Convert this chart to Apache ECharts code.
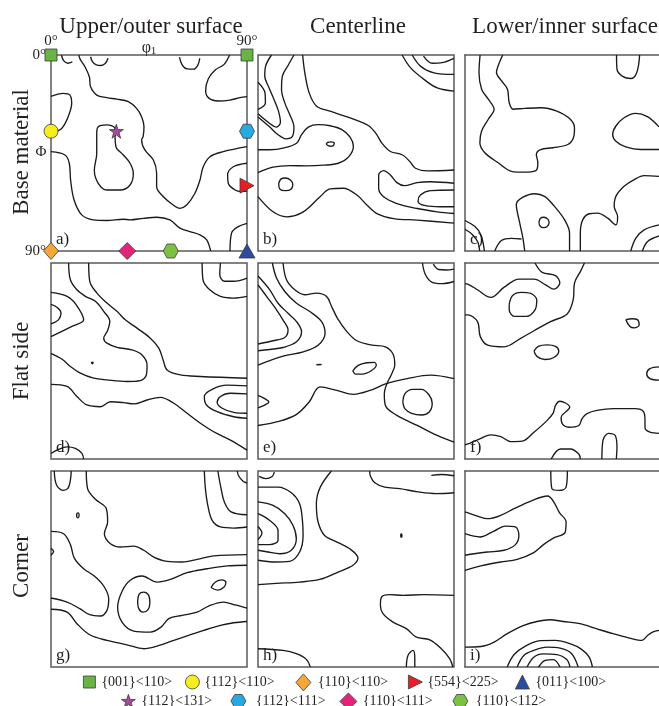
<!DOCTYPE html>
<html>
<head>
<meta charset="utf-8">
<script src="https://cdn.jsdelivr.net/npm/echarts@6/dist/echarts.min.js"></script>
<style>
  html, body { margin: 0; padding: 0; background: #ffffff; }
  #chart { width: 659px; height: 706px; }
</style>
</head>
<body>
<div id="chart"></div>
<script>
// ---- Text ----
const columnTitles = ['Upper/outer surface', 'Centerline', 'Lower/inner surface'];
const rowTitles = ['Base material', 'Flat side', 'Corner'];
const panelLetters = ['a)', 'b)', 'c)', 'd)', 'e)', 'f)', 'g)', 'h)', 'i)'];
const angleRange = [0, 90];          // φ1 and Φ both run 0°–90°

// ---- Ideal texture components (φ1, Φ) in degrees ----
const textureNames = ['{001}<110>', '{112}<110>', '{110}<110>', '{554}<225>', '{011}<100>',
                      '{112}<131>', '{112}<111>', '{110}<111>', '{110}<112>'];
const texturePositions = [
  [[0, 0], [90, 0]],
  [[0, 35]],
  [[0, 90]],
  [[90, 60]],
  [[90, 90]],
  [[30, 35]],
  [[90, 35]],
  [[35, 90]],
  [[55, 90]]
];

// ---- Iso-intensity lines of the φ2 = 45° sections, [φ1, Φ] in degrees ----
const contoursA = [
  [[4.8,0],[5.8,2.6],[7.8,3.8],[9.8,3.2]],
  [[18.2,0.8],[19,3],[20.8,4.5],[23,4.8],[25,3.8],[26.2,1.5]],
  [[59,1],[60.2,4.5],[62.5,6.4],[65.5,6.5],[67.5,4.5],[68.3,1.5]],
  [[82,0],[79.5,4.3],[75.5,6.8],[72.2,11],[71,16.5],[72.5,19.8],[76.8,21.1],[82.2,20.7],[86.7,19.6],[90,19.1]],
  [[12.8,0],[13.3,1.8],[15.6,5.4],[17.6,10],[18.2,14.6],[21,18.4],[25.6,19.6],[30.2,20.3],[35.5,21.4],[39.3,24.5],[41.6,28.3],[42.7,32.9],[42.3,37.5],[41.6,39],[43.1,43.6],[47,48.2],[48.5,54.3],[48.5,60.5],[51.5,65],[56.1,68.9],[59.2,70.4],[62.3,68.9],[66.1,63.5],[68.4,57.4],[69.9,51.3],[73,46.7],[79.1,44.4],[90,42.1]],
  [[0,19],[5.6,17.6],[8.7,18.4],[9.5,22.2],[7.9,28.3],[4.9,33.7],[0,35.8]],
  [[29.4,35.9],[29.8,42.1],[33.2,45.9],[36.3,49.7],[37.8,54.3],[36.3,59.7],[31.7,62],[25.6,62],[21.7,58.9],[19.9,52.9],[21,45.2],[21,36],[21.7,32.9],[25.6,32.1],[29.4,33.7],[29.4,35.9]],
  [[0,44.4],[6.4,45.9],[8.4,49.7],[9,57.4],[10.6,66.6],[14.1,73.4],[19.4,75.7],[25.6,76],[33.2,75.4],[36.3,75.7],[42.4,75],[48.5,74.5],[54.6,75.7],[59.2,79.5],[63.8,81.1],[68.4,82.6],[71.5,84.9],[73,88.7],[73.3,90]],
  [[90,49.7],[83.7,51.3],[81.1,55.1],[81.4,58.9],[84.5,62],[87.5,62.7],[90,62.5]],
  [[82.2,90],[82.9,81.8],[86,78.8],[90,77.3]]
];
const contoursB = [
  [[20.5,0],[21.5,8.2],[23.5,17.4],[26.9,23.5],[33.1,25.8],[39.2,27.8],[45.4,30],[50.8,32.5],[54.3,36.2],[56.9,40.5],[60.8,44.3],[66.2,45.8],[69.7,48.9],[72.3,52],[77.7,53.2],[90,52.8]],
  [[16.5,0],[13.8,4.8],[11.2,9.7],[10.8,15.8],[12.3,22],[14.6,27.4],[16.5,33.1],[15.8,37.4],[12.8,38.5],[9.2,36.6],[5.4,33.1],[0,28.5]],
  [[6.2,0],[3.5,5.1],[3.1,9.7],[5.1,15.1],[7.4,20.5],[9.4,25.8],[10.3,30.9],[8.5,33.1],[5.1,31.2],[0,27]],
  [[0,12.5],[3.2,17.4],[3.4,22],[0,25]],
  [[0,54],[6.9,51.5],[14.6,50.8],[22.3,50.9],[30,50.6],[36.9,49.7],[41.5,46.9],[43.8,42],[42.3,37.7],[38.5,34.3],[33.1,32.5],[27.7,32],[23.1,33.1],[20,36.6],[17.7,40.5],[11.5,42.8],[5.4,43.5],[0,43.5]],
  [[31.3,41],[32,40.1],[33.5,39.9],[35,40.5],[34.6,41.6],[33,41.9],[31.3,41]],
  [[9.5,59],[10.5,57],[12.5,56.5],[15,57.5],[16,59.5],[15,61.8],[12.5,62.3],[10,61.5],[9.5,59]],
  [[0,65],[6.9,72],[13.1,74.3],[20.8,72],[28.5,65.1],[33.1,61.5],[39.2,61.2],[45.4,64.3],[50,68.9],[54.6,72.8],[62.3,75.1],[73.1,75.8],[90,77.2]],
  [[90,58.9],[79.2,58.2],[73.1,58.6],[67.2,60],[63.8,58.6],[60.8,55.1],[57.7,53.1],[55.4,55.1],[55.4,61.2],[57.7,65.1],[63.8,68.2],[73.1,70.5],[82.3,72],[90,72.8]],
  [[90,62],[79.2,62.3],[74.6,64.3],[73.5,67.1],[76.9,69.2],[83.8,69.7],[90,69.7]],
  [[66.2,0],[70,5.8],[76.2,11.2],[82.3,15.1],[90,16.6]],
  [[70.8,0],[74.6,5.1],[80.8,8.2],[90,8.9]],
  [[76,0.5],[80,3.8],[84.6,3.5],[90,1.5]]
];
const contoursC = [
  [[7,0],[6.5,8],[7.7,15.7],[10.8,20.3],[13.5,24.9],[10.8,29.5],[7.7,34.9],[6.9,40.3],[9.2,44.9],[15.4,49.5],[21.5,53.4],[27.7,53.8],[33.1,52.9],[33.8,49.5],[33.1,45.7],[35.1,43.4],[40.8,42.6],[47.7,41.1],[50.3,38],[50.8,33.4],[48.5,29.2],[42.3,25.7],[35.4,24.2],[27.7,24.5],[22.3,24.9],[20.5,21.8],[19.7,15.7],[16.9,11.8],[14.6,8],[15.4,4.9],[17.5,0]],
  [[70.3,0],[70.5,6.5],[73.1,9.8],[76.9,10.8],[79.7,8],[81,0]],
  [[90,33],[84.6,28.3],[79.2,26.8],[73.8,28.8],[70,32.6],[68.5,36.5],[70,39.6],[74.6,42.2],[81.5,43.4],[90,43.4]],
  [[90,55.7],[83.1,55.4],[78.5,57.2],[73.8,60.3],[70,64.9],[69.2,69.5],[70.8,74.2],[70,78],[66.2,74.9],[61.5,72.6],[57.7,72.9],[54.6,75.7],[53.5,81.8],[53.5,90]],
  [[27.7,90],[26.9,84.3],[25.4,77.2],[23.8,68.8],[32.3,63.7],[36.9,64.9],[41.5,69.5],[46.2,75.7],[48.5,81.8],[48.5,90]],
  [[13.8,90],[16.9,85.2],[21.5,84.2],[26.2,84.5]],
  [[34.3,76.9],[35,75],[36.6,74.5],[38.5,75.5],[39,77.2],[38,78.9],[36.4,79.3],[34.8,78.5],[34.3,76.9]],
  [[0,76],[4.6,78.8],[7.4,82.6],[9,90]],
  [[0,80],[3.5,82.5],[6,86],[6.8,90]],
  [[76.9,90],[79.2,84.2],[83.1,80.3],[90,78]],
  [[82.3,90],[84.6,85.7],[90,83.1]]
];
const contoursD = [
  [[8.1,0],[8.9,7.7],[11.9,12.3],[15.8,15.3],[20.4,17.6],[24.2,22.2],[27,26.8],[26,31],[24.2,34.5],[25.7,36.8],[30.3,38.7],[37.2,39.9],[41.8,42.2],[44.1,46.8],[43.8,51.4],[41,54],[34.9,54.4],[25.7,53.7],[19.6,52.9],[13.5,50.6],[8.9,47.5],[5.1,44.2],[0,41.5]],
  [[17.3,0],[17.8,8.4],[21.1,13.8],[25.7,18.4],[30.3,22.2],[34.1,26.1],[39.5,29.9],[45.6,34.5],[49.5,39.1],[51.5,44.5],[53.3,49.1],[59.4,51.4],[68.6,52.1],[90,52.9]],
  [[0,13.5],[7.4,15.3],[11.6,19.2],[15,26.1],[9.6,29.1],[0,33.8]],
  [[0,19],[3,20.5],[4.6,23],[3.5,26],[0,28]],
  [[0,55.7],[7.4,56.7],[11.9,61.3],[16.5,65.2],[22.7,66],[27.3,63.7],[33.4,64.1],[38,64.7],[44.1,62.9],[50.2,61.7],[56.4,64.4],[62.5,69],[68.6,73.6],[74.7,77.5],[82.4,81.3],[90,85.9]],
  [[90,56.4],[80.9,56.1],[74,58],[70.4,61.3],[71.4,65.2],[76.3,68.3],[83.9,70.6],[90,71.3]],
  [[90,60.1],[82.4,59.8],[77.8,61.3],[76.3,64.1],[78.6,66.7],[83.9,68.6],[90,69]],
  [[69.4,0],[69.8,7.7],[72.9,12.3],[77.8,15.3],[83.9,16.1],[90,15.3]],
  [[77.8,0],[77.5,5.4],[79.6,8.4],[83.9,8.4],[90,6.9]],
  [[0,87.5],[2.8,85.9],[7.4,84.4],[11.2,85.1],[14.2,87.4],[15,90]],
  [[18.4,45.8],[19.3,45.5],[19.2,46.3],[18.4,45.8]]
];
const contoursE = [
  [[11.5,0],[13.1,7.7],[16.9,12.3],[21.5,14.6],[26.9,13.8],[31.5,15.4],[33.8,20],[36.5,25.4],[40.8,31.5],[45.4,35.7],[52.3,37.7],[58.5,38.5],[62,41.8],[62.8,46.9],[61.1,51.5],[59.2,55.4],[58,60],[58.5,65.4],[63.8,70],[73.1,74.6],[82.3,79.2],[90,82.3]],
  [[0,74.6],[10,72.6],[17.7,69.5],[23.5,63.8],[28.5,56.9],[36.2,58.5],[43.8,60.3],[51.5,58.5],[58.9,55.4],[68.5,53.1],[79.2,51.5],[90,53.1]],
  [[0,10],[4.6,16.2],[8.5,21.5],[11.5,26.2],[13.8,30.8],[12.3,34.2],[6.9,35.7],[0,37.2]],
  [[0,6],[5.4,12.3],[9.2,18.5],[13.8,23.1],[17.7,26.9],[20,31.5],[17.7,36.2],[11.5,38.8],[5.4,39.7],[0,40.3]],
  [[6.6,0],[8.5,6.9],[12.3,13.1],[17.7,18.5],[23.8,22.3],[29.2,26.9],[30.8,32.3],[27.7,37.7],[20.8,40.8],[11.5,42.8],[0,46.9]],
  [[43.5,49.5],[46,47],[50,45.8],[53.5,45.6],[54.3,47],[52,49.5],[48,51],[44.8,51],[43.5,49.5]],
  [[26.8,46.7],[29.2,46.6]],
  [[66.5,64],[67.5,60],[71,58],[75,58],[78.5,60.5],[80,64.5],[78.5,68.5],[75,69.8],[70.5,69],[67.5,67],[66.5,64]],
  [[0,60.8],[3.5,62.5],[5,63.8],[3.5,65],[0,66.5]],
  [[75.5,0],[76.9,5.4],[80,8.9],[84.6,9.5],[90,8.5]],
  [[80.5,0.5],[83,3],[86.5,3.2],[90,2.8]]
];
const contoursF = [
  [[0,9.5],[2,10],[5.8,12.3],[12,15.8],[18.2,11.1],[25.1,7.4],[32,7.4],[37.4,10],[41.2,12],[44,9.2],[42,5.8],[35.8,4.3],[32.5,0]],
  [[0,23.8],[1.2,23.8],[5.8,26.9],[7.1,33.8],[10.5,37.7],[18.2,38.5],[25.8,34.6],[32,31.1],[39.7,26.9],[47.4,23.4],[50.2,16.9],[50.8,9.2],[53.8,3.4],[55.4,0]],
  [[20.5,19],[22,15],[26,13.5],[30.5,14],[33.3,17],[32.5,21.5],[28.5,24.5],[23,24.5],[20.5,21.5],[20.5,19]],
  [[32,40.5],[34,38.3],[38,37.6],[42,38.3],[43.5,40.5],[41,43.5],[37,44.3],[33.5,43],[32,40.5]],
  [[74.6,26],[77.5,25.6],[80,26],[80.8,28.5],[78.5,29.8],[76.5,29.2],[74.6,26]],
  [[90,47.7],[85.8,48.5],[84.3,50.8],[85.8,53.1],[90,53.8]],
  [[0,83.5],[1.2,83.1],[5.8,81.2],[12,78.9],[16.6,79.7],[21.2,82],[26.6,81.8],[32,77.7],[37.8,72.6],[40.9,68.9],[42,65.4],[44,63.5],[46.6,64.3],[48.6,66.2],[46.6,68.5],[44.6,70.8],[45.1,73.8],[48.2,75.4],[52.8,74.6],[54.3,71.5],[56.6,69.2],[61.2,67.7],[68.9,66.9],[78.9,66.9],[82.8,68.2],[83.5,72.3],[83.5,75.7],[85.8,77.7],[90,78.2]],
  [[40,90],[44.3,85.4],[48.9,85.4],[52.8,87.7],[53.5,90]],
  [[63.5,90],[64,81.5],[66.6,78.2],[69.7,79.2],[70.5,84.6],[70.2,90]]
];
const contoursG = [
  [[1.5,0],[2.5,6.3],[5.5,8.9],[8.1,7.4],[9.3,0]],
  [[16.2,0],[16.8,8.1],[20.4,13],[25.4,17.3],[26,23.4],[24.5,28.8],[27.3,33.4],[31.9,34.9],[38,34.5],[42.6,36.4],[47.2,39.5],[53.3,41.5],[60.2,41.8],[67.1,40.6],[74.7,39],[90,38.4]],
  [[11.8,19.5],[12.5,19.2],[12.9,20.6],[12.3,21.5],[11.8,20.8],[11.8,19.5]],
  [[0,35.5],[1.2,37],[0,38.7]],
  [[0,27.7],[5.8,28.8],[8.9,33.8],[10.7,40],[15,44.9],[19.9,48.2],[24.2,52.8],[26.5,58.7],[25.7,64],[22.7,66.6],[17.8,66],[13.2,63.2],[7.4,60.2],[0,58.3]],
  [[90,43.3],[80.9,43.6],[71.7,44.9],[62.5,46.7],[54.8,49.8],[48.7,51],[41.8,48.2],[36.4,50.2],[32.6,55.3],[30.6,62.5],[32.6,69.4],[38,73.5],[45.6,74],[50.5,71.7],[54.1,67.8],[60.2,66.3],[67.1,64.8],[72.4,62],[79.3,60.2],[84.5,61.5],[90,63]],
  [[39.8,60],[40.5,56.5],[42.6,55.6],[44.8,57],[45.4,60.5],[44.5,63.8],[42.3,64.8],[40.3,63.2],[39.8,60]],
  [[73.5,53.5],[75.5,51],[78.5,50],[80.3,51],[79.5,53.3],[76.5,54.7],[73.5,53.5]],
  [[0,63.5],[7.4,64.8],[11.9,70.1],[17.8,75.2],[25.7,77.8],[34.9,79.8],[42.6,81.6],[48.7,80.4],[56.4,77.8],[63.2,75.5],[70.1,73.2],[77.8,70.9],[83.9,69.7],[90,69.1]],
  [[70.4,0],[70.9,8.1],[72,15.8],[74,22.7],[77.8,25.7],[83.9,26.2],[90,25.7]],
  [[76.6,0],[78.1,8.1],[79.6,14.2],[82.7,18.8],[90,20.1]],
  [[85.5,0],[86.2,2.3],[88.2,4.7],[90,5.5]]
];
const contoursH = [
  [[0.5,2.5],[3.5,3.5],[6.5,2.5],[7.5,0.5]],
  [[33.7,0],[28.6,7.4],[26.8,15],[27.6,23.4],[30.6,29.6],[36.8,32.9],[42.1,35.7],[45.9,40],[43.6,43.3],[36.8,46.4],[28.3,49.8],[19.1,51],[8.4,51.6],[0,52.2]],
  [[0,7.4],[9.2,7.4],[15.3,10],[19.1,15],[20.4,22.7],[20.7,29.6],[19.1,37.2],[14.5,41.5],[7.7,41.8],[0,41]],
  [[0,14.2],[6.9,15.8],[12.3,19.6],[16.1,25],[17.6,31.1],[15.3,36.4],[10,38],[4.6,37.2],[0,36.4]],
  [[0,19.6],[5.4,22.7],[9.2,27.3],[9.2,31.9],[5.4,33.8],[0,33.8]],
  [[0,25.5],[1.8,28.5],[0,31.5]],
  [[51.3,0],[51.6,2.3],[53.6,5.4],[58.2,7.4],[65.1,8.1],[73.5,9.6],[81.9,10.4],[90,10]],
  [[79.6,2],[84.2,1.6],[90,2.2]],
  [[65.5,29],[66,28.9],[66.1,30],[65.7,30.4],[65.5,29]],
  [[90,57.1],[75.8,56.8],[66.6,57.1],[60.5,56.8],[56.7,57.9],[56.2,61.7],[57.4,65.5],[62,69.4],[68.1,72.4],[72.7,76.3],[78.9,77.5],[84.2,81.6],[88,86.2],[89.5,90]],
  [[0,81.6],[11.5,82.4],[17.6,83.9],[22.2,86.5],[24,90]],
  [[68.1,90],[68.9,84.6],[71.2,82.4],[72,86.2],[72,90]]
];
const contoursI = [
  [[39.8,0],[40.3,8.1],[43.8,8.9],[46.9,7.4],[47.5,0]],
  [[0,18.8],[5.8,20.7],[10.4,21.9],[16.5,20.4],[22.7,17.3],[30.3,13.9],[38.3,11.5],[41,13.9],[43.8,19.1],[46.9,23.4],[46.4,28.3],[41,30.8],[36.4,33.8],[31.9,37.5],[24.2,40.6],[16.5,41.8],[7.4,43.6],[0,45.6]],
  [[0,28.8],[7,30.3],[13.2,27.7],[18.8,25.3],[23.4,25.7],[25,29.6],[23.4,33.8],[18.1,36.4],[10.4,37.2],[4.3,38],[0,38.7]],
  [[0,80.9],[7.4,80.6],[13.5,78.6],[19.6,74.7],[27.3,70.9],[33.4,69.1],[39.5,68.3],[45.6,69.1],[53.3,70.1],[60.9,72.4],[68.6,74.7],[76.3,76.7],[82.1,77.8],[84.7,75.5],[87,74],[90,73.2]],
  [[19.6,90],[22.7,84.4],[28,80.4],[34.9,77.9],[41.8,77.8],[48.7,79.3],[54.1,81.9],[57.6,85.5],[59.1,90]],
  [[24.2,90],[27.3,84.7],[31.9,82.4],[37.9,80.9],[44.1,81.3],[49.5,83.9],[52.5,90]],
  [[28.8,90],[31.9,85.5],[36.4,84],[42.6,84.3],[47.2,86.6],[48.7,90]],
  [[34.1,90],[37.2,87],[41,86.6],[44.1,90]]
];

// ---- Layout & style ----
const SERIF = '"Liberation Serif", "Times New Roman", serif';
const INK = '#231f20';
const FRAME = { color: '#5a5a5a', width: 1.5 };
const colLeft = [51, 258, 465];
const rowTop = [55, 263, 471];
const panelW = 196, panelH = 196;
const panels = [contoursA, contoursB, contoursC, contoursD, contoursE, contoursF, contoursG, contoursH, contoursI];

const STAR = 'path://M0,-1L0.2245,-0.309L0.951,-0.309L0.363,0.118L0.588,0.809L0,0.382L-0.588,0.809L-0.363,0.118L-0.951,-0.309L-0.2245,-0.309Z';
const HEX = 'path://M-1,0L-0.5,-0.866L0.5,-0.866L1,0L0.5,0.866L-0.5,0.866Z';
const TRI_RIGHT = 'path://M-1,-1L1,0L-1,1Z';
const TRI_UP = 'path://M0,-1L1,1L-1,1Z';
const markerStyle = [
  { symbol: 'rect',      size: [12, 12], color: '#6ab445' },
  { symbol: 'circle',    size: [14, 14], color: '#f8ec1e' },
  { symbol: 'diamond',   size: [15, 17], color: '#f7a63a' },
  { symbol: TRI_RIGHT,   size: [14, 15], color: '#ec1c24' },
  { symbol: TRI_UP,      size: [16, 14], color: '#2d4b9e' },
  { symbol: STAR,        size: [14, 14], color: '#a64a9d' },
  { symbol: HEX,         size: [15, 14], color: '#29a9e1' },
  { symbol: 'diamond',   size: [17, 17], color: '#e4237b' },
  { symbol: HEX,         size: [15, 14], color: '#7cc242' }
];
// legend: icon centre x, row centre y, extra text offset
const legendSpots = [
  [89, 682, 1], [192, 682, 0], [303, 682, 2], [415, 682, 0], [523, 682, 0],
  [128, 701, 1], [238, 701, 5], [348, 701, 1], [460, 701, 3]
];

const grids = [], xAxes = [], yAxes = [], extraX = [], series = [];
for (let p = 0; p < 9; p++) {
  const r = Math.floor(p / 3), c = p % 3;
  const openRight = c === 2;    // right-hand column runs off the page edge
  grids.push({
    left: colLeft[c], top: rowTop[r], width: panelW, height: panelH,
    show: !openRight, borderColor: FRAME.color, borderWidth: FRAME.width, backgroundColor: 'transparent'
  });
  const first = p === 0;
  xAxes.push({
    gridIndex: p, type: 'value', min: angleRange[0], max: angleRange[1], interval: 90,
    position: first ? 'top' : 'bottom', show: first || openRight,
    axisLine: { show: openRight, lineStyle: FRAME }, axisTick: { show: false }, splitLine: { show: false },
    axisLabel: { show: first, formatter: v => v + '°', margin: 6,
                 fontFamily: SERIF, fontSize: 15, color: INK }
  });
  yAxes.push({
    gridIndex: p, type: 'value', inverse: true, min: angleRange[0], max: angleRange[1], interval: 90,
    position: 'left', show: first || openRight,
    axisLine: { show: openRight, onZero: false, lineStyle: FRAME }, axisTick: { show: false }, splitLine: { show: false },
    axisLabel: { show: first, formatter: v => v + '°', margin: 5,
                 fontFamily: SERIF, fontSize: 15, color: INK }
  });
  if (openRight) {
    extraX.push({
      gridIndex: p, type: 'value', min: angleRange[0], max: angleRange[1], interval: 90,
      position: 'top', axisLine: { show: true, onZero: false, lineStyle: FRAME },
      axisTick: { show: false }, axisLabel: { show: false }, splitLine: { show: false }
    });
  }
  panels[p].forEach(line => {
    series.push({
      type: 'line', xAxisIndex: p, yAxisIndex: p, data: line,
      smooth: 0.35, symbol: 'none', silent: true, z: 3,
      lineStyle: { color: '#1a1a1a', width: 1.35 }
    });
  });
}
xAxes.forEach(a => { a.axisLine.onZero = false; });

textureNames.forEach((name, i) => {
  const m = markerStyle[i];
  series.push({
    type: 'scatter', name: name, xAxisIndex: 0, yAxisIndex: 0,
    data: texturePositions[i], symbol: m.symbol, symbolSize: m.size,
    clip: false, silent: true, z: 10,
    itemStyle: { color: m.color, borderColor: '#3b3b3b', borderWidth: 0.8, opacity: 1 }
  });
});

const legends = textureNames.map((name, i) => {
  const m = markerStyle[i];
  const [cx, cy, dx] = legendSpots[i];
  const rowH = Math.max(m.size[1], 16);
  return {
    left: cx - m.size[0] / 2, top: cy - rowH / 2, padding: 0, itemGap: 0,
    selectedMode: false, itemWidth: m.size[0], itemHeight: m.size[1],
    data: [{ name: name, icon: m.symbol }],
    itemStyle: { borderColor: '#3b3b3b', borderWidth: 0.8 },
    textStyle: { fontFamily: SERIF, fontSize: 14, lineHeight: 16, color: INK, padding: [0, 0, 0, dx] }
  };
});

const graphics = [];
columnTitles.forEach((t, c) => {
  graphics.push({
    type: 'text', x: colLeft[c] + panelW / 2 + 2, y: 27,
    style: { text: t, font: '23px ' + SERIF, fill: INK,
             align: 'center', verticalAlign: 'middle', textAlign: 'center', textVerticalAlign: 'middle' }
  });
});
const rowCentres = [152, 361, 566];
rowTitles.forEach((t, r) => {
  graphics.push({
    type: 'text', x: 22, y: rowCentres[r], rotation: Math.PI / 2,
    style: { text: t, font: '23px ' + SERIF, fill: INK,
             align: 'center', verticalAlign: 'middle', textAlign: 'center', textVerticalAlign: 'middle' }
  });
});
panelLetters.forEach((t, p) => {
  const r = Math.floor(p / 3), c = p % 3;
  graphics.push({
    type: 'text', x: colLeft[c] + 5, y: rowTop[r] + 185,
    style: { text: t, font: '17px ' + SERIF, fill: INK,
             align: 'left', verticalAlign: 'middle', textAlign: 'left', textVerticalAlign: 'middle' }
  });
});
// axis symbols of the first section
graphics.push({
  type: 'text', x: 149, y: 48,
  style: {
    text: '{p|φ}{s|1}', fill: INK, align: 'center', verticalAlign: 'middle',
    textAlign: 'center', textVerticalAlign: 'middle',
    rich: { p: { fontFamily: SERIF, fontSize: 16, fill: INK },
            s: { fontFamily: SERIF, fontSize: 11, fill: INK, padding: [6, 0, 0, 0] } }
  }
});
graphics.push({
  type: 'text', x: 41, y: 152,
  style: { text: 'Φ', font: '15px ' + SERIF, fill: INK,
           align: 'center', verticalAlign: 'middle', textAlign: 'center', textVerticalAlign: 'middle' }
});

const chart = echarts.init(document.getElementById('chart'), null, { renderer: 'canvas' });
chart.setOption({
  backgroundColor: '#ffffff',
  animation: false,
  grid: grids,
  xAxis: xAxes.concat(extraX),
  yAxis: yAxes,
  legend: legends,
  graphic: graphics,
  series: series
});
</script>
</body>
</html>
